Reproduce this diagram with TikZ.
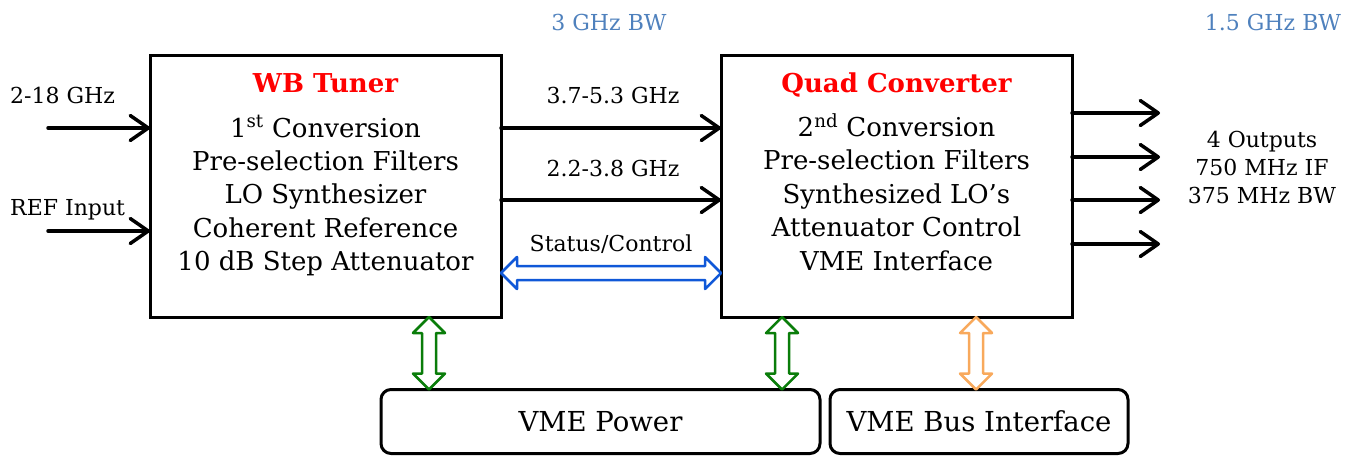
\documentclass[tikz,border=0pt]{standalone}
\usepackage{fontspec}
\setmainfont{DejaVu Serif}
\usetikzlibrary{arrows.meta,calc}

\definecolor{titlered}{RGB}{255,0,0}
\definecolor{bwblue}{HTML}{4F81BD}
\definecolor{busblue}{HTML}{1058D8}
\definecolor{pwrgreen}{HTML}{0A7D0A}
\definecolor{vmeorange}{HTML}{F8A95C}

% hollow two-headed arrow between two points
\newcommand\twinarrow[3]{%
  \path #2 coordinate (ta-a) #3 coordinate (ta-b);
  \coordinate (ta-h) at ($(ta-a)!16pt!(ta-b)$);
  \coordinate (ta-k) at ($(ta-b)!16pt!(ta-a)$);
  \draw[#1] (ta-a)
    -- ($(ta-h)!16pt!90:(ta-b)$) -- ($(ta-h)!7pt!90:(ta-b)$)
    -- ($(ta-k)!7pt!-90:(ta-a)$) -- ($(ta-k)!16pt!-90:(ta-a)$)
    -- (ta-b)
    -- ($(ta-k)!16pt!90:(ta-a)$) -- ($(ta-k)!7pt!90:(ta-a)$)
    -- ($(ta-h)!7pt!-90:(ta-b)$) -- ($(ta-h)!16pt!-90:(ta-b)$)
    -- cycle;}

\tikzset{
  blk/.style={draw, line width=3pt, minimum width=351pt, minimum height=262pt, inner sep=0pt, outer sep=0pt},
  bus/.style={draw, line width=3pt, rounded corners=10pt, inner sep=0pt, outer sep=0pt, minimum height=64pt,
    font=\fontsize{27.5}{33}\selectfont},
  title/.style={anchor=base, inner sep=0pt, text=titlered, font=\bfseries\fontsize{26}{30}\selectfont},
  body/.style={anchor=base, inner sep=0pt, align=center, font=\fontsize{26}{33.4}\selectfont},
  lbl/.style={inner sep=0pt, font=\fontsize{22}{28}\selectfont},
  bw/.style={lbl, anchor=base, text=bwblue},
  sig/.style={line width=3.5pt, line cap=round, line join=round,
    -{Straight Barb[length=18pt,width=25pt,line cap=round,line join=round]}},
  twin/.style={line width=2.5pt, line join=round, fill=white},
}

\begin{document}
\begin{tikzpicture}[x=1pt, y=-1pt]
\useasboundingbox (0,0) rectangle (1348,456);

% main units
\node[blk] (wb) at (325.5,186) {};
\node[blk] (qc) at (896.5,186) {};
\node[bus, minimum width=439pt] (pw) at (600.5,421.5) {VME Power};
\node[bus, minimum width=298pt] (vb) at (979,421.5) {VME Bus Interface};

% unit contents (multi-line nodes sit on the baseline of their last line)
\node[title] (wbt) at (325.5,92.5) {WB Tuner};
\node[body] (wbb) at (325.5,270.6) {1\textsuperscript{st} Conversion\\Pre-selection Filters\\LO Synthesizer\\Coherent Reference\\10 dB Step Attenuator};
\node[title] (qct) at (896.5,92.5) {Quad Converter};
\node[body] (qcb) at (896.5,270) {2\textsuperscript{nd} Conversion\\Pre-selection Filters\\Synthesized LO’s\\Attenuator Control\\VME Interface};

% bandwidth notes
\node[bw] (bw1) at (609,30) {3 GHz BW};
\node[bw] (bw2) at (1273,30) {1.5 GHz BW};

% inputs
\coordinate (rf) at (48,128);
\coordinate (ref) at (48,231);
\node[lbl, anchor=base west] (rfl) at (10,103) {2-18 GHz};
\node[lbl, anchor=base west] (refl) at (10,215) {REF Input};
\draw[sig] (rf) -- (rf -| wb.west);
\draw[sig] (ref) -- (ref -| wb.west);

% tuner to converter
\node[lbl, anchor=base] (if1) at (613,103) {3.7-5.3 GHz};
\node[lbl, anchor=base] (if2) at (613,176) {2.2-3.8 GHz};
\draw[sig] ($(wb.north east)+(0,73)$) -- ($(qc.north west)+(0,73)$);
\draw[sig] ($(wb.north east)+(0,145)$) -- ($(qc.north west)+(0,145)$);

% outputs
\foreach \dy/\n in {58/1,102/2,145/3,189/4}
  \draw[sig] ($(qc.north east)+(0,\dy)$) -- ++(88,0) coordinate (out\n);
\node[lbl, anchor=base, align=center] (outl) at (1262,203) {4 Outputs\\750 MHz IF\\375 MHz BW};

% control and power links
\node[lbl, anchor=base] (scl) at (611,251) {Status/Control};
\twinarrow{twin, draw=busblue}{($(wb.south east)+(0,-44)$)}{($(qc.south west)+(0,-44)$)}
\twinarrow{twin, draw=pwrgreen}{($(wb.south west)+(279,0)$)}{($(pw.north west)+(48,0)$)}
\twinarrow{twin, draw=pwrgreen}{($(qc.south west)+(61,0)$)}{($(pw.north east)+(-38,0)$)}
\twinarrow{twin, draw=vmeorange}{($(qc.south east)+(-96,0)$)}{($(vb.north west)+(146,0)$)}
\end{tikzpicture}
\end{document}
